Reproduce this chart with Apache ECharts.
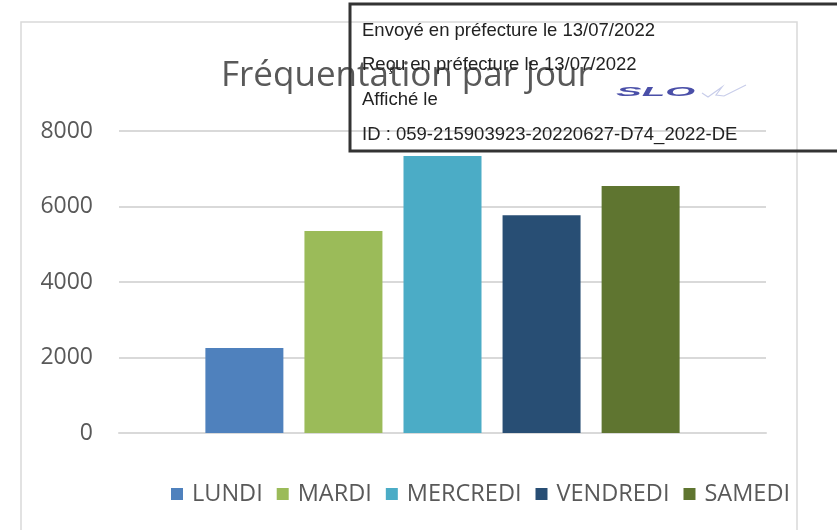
<!DOCTYPE html>
<html>
<head>
<meta charset="utf-8">
<script src="https://cdn.jsdelivr.net/npm/echarts@6/dist/echarts.min.js"></script>
<style>
  html, body { margin: 0; padding: 0; background: #fff; }
  #chart { width: 837px; height: 530px; }
</style>
</head>
<body>
<div id="chart"></div>
<script>
// données
var jours = ['LUNDI', 'MARDI', 'MERCREDI', 'VENDREDI', 'SAMEDI'];
var visites = [2250, 5350, 7340, 5770, 6540];
var couleurs = ['#4f81bd', '#9bbb59', '#4bacc6', '#284e74', '#5f7530'];
var tampon = [
    'Envoyé en préfecture le 13/07/2022',
    'Reçu en préfecture le 13/07/2022',
    'Affiché le',
    'ID : 059-215903923-20220627-D74_2022-DE'
];

var myChart = echarts.init(document.getElementById('chart'));
var police = "'Open Sans', sans-serif";

var series = jours.map(function (j, i) {
    return {
        name: j,
        type: 'bar',
        data: [visites[i]],
        barWidth: 78,
        barGap: '27%',
        itemStyle: { color: couleurs[i] }
    };
});

var graphics = [
    // cadre du graphique
    {
        type: 'rect', shape: { x: 21, y: 22, width: 776, height: 520 },
        style: { fill: null, stroke: '#d9d9d9', lineWidth: 1.5 }, z: 0
    },
    // cadre du tampon
    {
        type: 'rect', shape: { x: 350, y: 4, width: 500, height: 147 },
        style: { fill: null, stroke: '#333', lineWidth: 3 }, z: 10
    },
    // logo SLO
    {
        type: 'text', x: 616, y: 92, scaleX: 1.75, scaleY: 0.6, z: 10,
        style: { text: 'SLO', font: 'italic bold 22px "Liberation Sans"', fill: '#4a4fa8', verticalAlign: 'middle' }
    },
    {
        type: 'polyline', z: 10,
        shape: { points: [[702, 93], [708, 97], [722, 87], [716, 95], [724, 96], [746, 85]] },
        style: { stroke: '#c8cdea', lineWidth: 1.2, fill: null }
    }
];
tampon.forEach(function (t, i) {
    graphics.push({
        type: 'text', x: 362, y: [31, 65, 100, 135][i], z: 10,
        style: { text: t, font: '18.5px "Liberation Sans"', fill: '#222', verticalAlign: 'middle' }
    });
});

var option = {
    animation: false,
    title: {
        text: 'Fréquentation par jour',
        left: 216,
        top: 54,
        textStyle: { fontFamily: police, fontSize: 35, fontWeight: 'normal', color: '#595959' }
    },
    legend: {
        data: jours,
        left: 166,
        top: 477,
        itemWidth: 12,
        itemHeight: 12,
        itemGap: 14,
        icon: 'rect',
        textStyle: { fontFamily: police, fontSize: 23.5, color: '#595959', padding: [0, 0, 0, 4] }
    },
    grid: { left: 119, right: 71, top: 131, bottom: 97 },
    xAxis: {
        type: 'category',
        data: [''],
        axisLine: { lineStyle: { color: '#d9d9d9', width: 2 } },
        axisTick: { show: false },
        axisLabel: { show: false }
    },
    yAxis: {
        type: 'value',
        min: 0,
        max: 8000,
        interval: 2000,
        axisLine: { show: false },
        axisTick: { show: false },
        axisLabel: {
            fontFamily: police, fontSize: 23, color: '#595959', margin: 26,
            formatter: function (v) { return String(v); }
        },
        splitLine: { lineStyle: { color: '#d9d9d9', width: 2 } }
    },
    series: series,
    graphic: graphics
};

myChart.setOption(option);
</script>
</body>
</html>
